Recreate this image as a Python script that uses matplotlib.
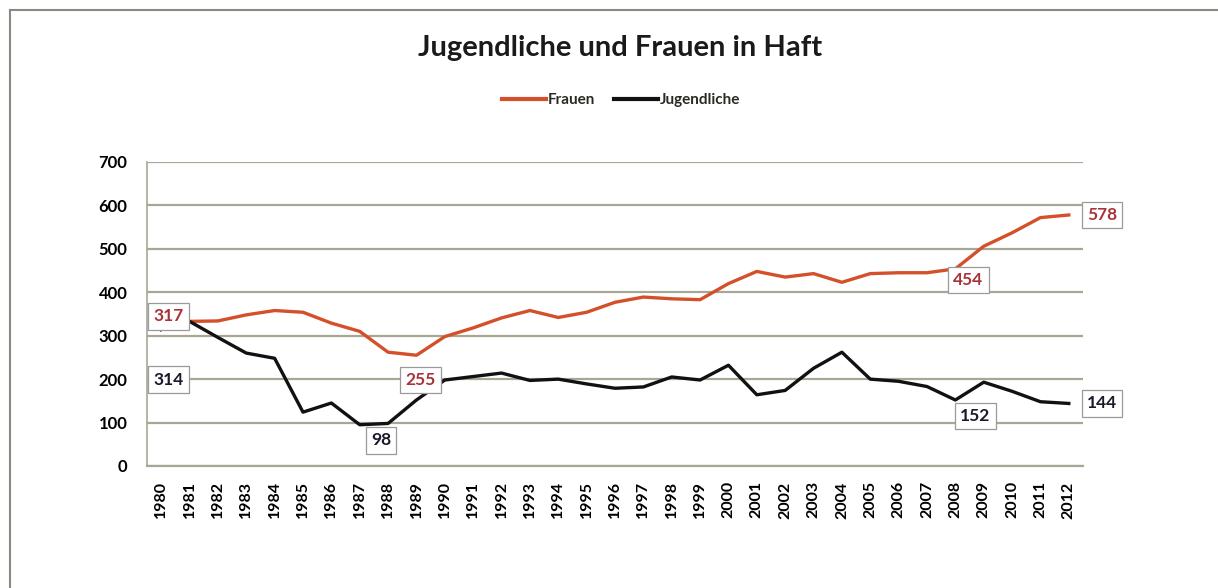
import matplotlib.pyplot as plt
from matplotlib.lines import Line2D

years = list(range(1980, 2013))
frauen = [317, 333, 334, 348, 358, 354, 329, 310, 262, 255, 298, 318,
          341, 358, 342, 354, 377, 389, 385, 383, 420, 448, 435, 443,
          423, 443, 445, 445, 454, 506, 537, 572, 578]
jugendliche = [314, 333, 296, 260, 248, 124, 145, 95, 98, 152, 198, 206,
               214, 197, 200, 189, 179, 182, 205, 198, 232, 164, 174, 225,
               262, 200, 195, 183, 152, 193, 172, 148, 144]

# (year index, pixel offset x, pixel offset y)
labels_frauen = [(0, 7, 12), (9, 4, -25), (28, 13, -11), (32, 33, 0)]
labels_jugend = [(0, 7, -50), (8, -7, -17), (28, 20, -16), (32, 33, 0)]

c_frauen = "#d4502a"
c_jugend = "#111111"
c_grid = "#a8a796"

plt.rcParams['font.family'] = ['Lato', 'DejaVu Sans']

fig = plt.figure(figsize=(12.18, 5.88), dpi=100)
ax = fig.add_axes([147 / 1218, 1 - 466 / 588, (1083 - 147) / 1218, (466 - 162) / 588])

x = list(range(len(years)))
ax.plot(x, frauen, color=c_frauen, linewidth=2.4, solid_joinstyle='round', zorder=3)
ax.plot(x, jugendliche, color=c_jugend, linewidth=2.4, solid_joinstyle='round', zorder=3)

ax.set_xlim(-0.5, len(years) - 0.5)
ax.set_ylim(0, 700)
ax.set_yticks(range(0, 701, 100))
ax.set_xticks(x)
ax.set_xticklabels([str(y) for y in years], rotation=90, fontsize=11.5, fontweight='bold')
ax.tick_params(axis='y', labelsize=12, length=0, pad=14)
ax.tick_params(axis='x', length=0, pad=11)
for t in ax.get_yticklabels():
    t.set_fontweight('bold')
ax.grid(axis='y', color=c_grid, linewidth=1.6)
ax.set_axisbelow(True)
for s in ['top', 'right']:
    ax.spines[s].set_visible(False)
ax.spines['left'].set_color(c_grid)
ax.spines['bottom'].set_color(c_grid)
ax.spines['left'].set_linewidth(1.2)
ax.spines['bottom'].set_linewidth(1.6)

box = dict(boxstyle='square,pad=0.3', facecolor='white', edgecolor='#9a9a9a', linewidth=0.9)
for i, dx, dy in labels_frauen:
    ax.annotate(str(frauen[i]), (x[i], frauen[i]), xytext=(dx, dy), textcoords='offset pixels',
                ha='center', va='center', fontsize=12.5, fontweight='bold', color='#a8343a',
                bbox=box, zorder=5)
for i, dx, dy in labels_jugend:
    ax.annotate(str(jugendliche[i]), (x[i], jugendliche[i]), xytext=(dx, dy), textcoords='offset pixels',
                ha='center', va='center', fontsize=12.5, fontweight='bold', color='#1a1a2a',
                bbox=box, zorder=5)

fig.text(620 / 1218, 1 - 48 / 588, "Jugendliche und Frauen in Haft", ha='center', va='center',
         fontsize=21, fontweight='bold', color='#1a1a1a')

handles = [Line2D([], [], color=c_frauen, linewidth=3),
           Line2D([], [], color=c_jugend, linewidth=3)]
fig.legend(handles, ["Frauen", "Jugendliche"], loc='center', ncol=2,
           bbox_to_anchor=(621 / 1218, 1 - 100 / 588), frameon=False,
           prop={'size': 11, 'weight': 'bold'}, handlelength=2.9,
           handletextpad=0.1, columnspacing=1.2, labelcolor='#2a2a22')

# outer chart frame (only top and left edges are visible in the scan)
fig.add_artist(Line2D([10 / 1218, 1], [1 - 10 / 588, 1 - 10 / 588], color='#8a8a80', linewidth=1.5))
fig.add_artist(Line2D([10 / 1218, 10 / 1218], [0, 1 - 10 / 588], color='#8a8a80', linewidth=1.5))

fig.savefig("out.png", dpi=100)
